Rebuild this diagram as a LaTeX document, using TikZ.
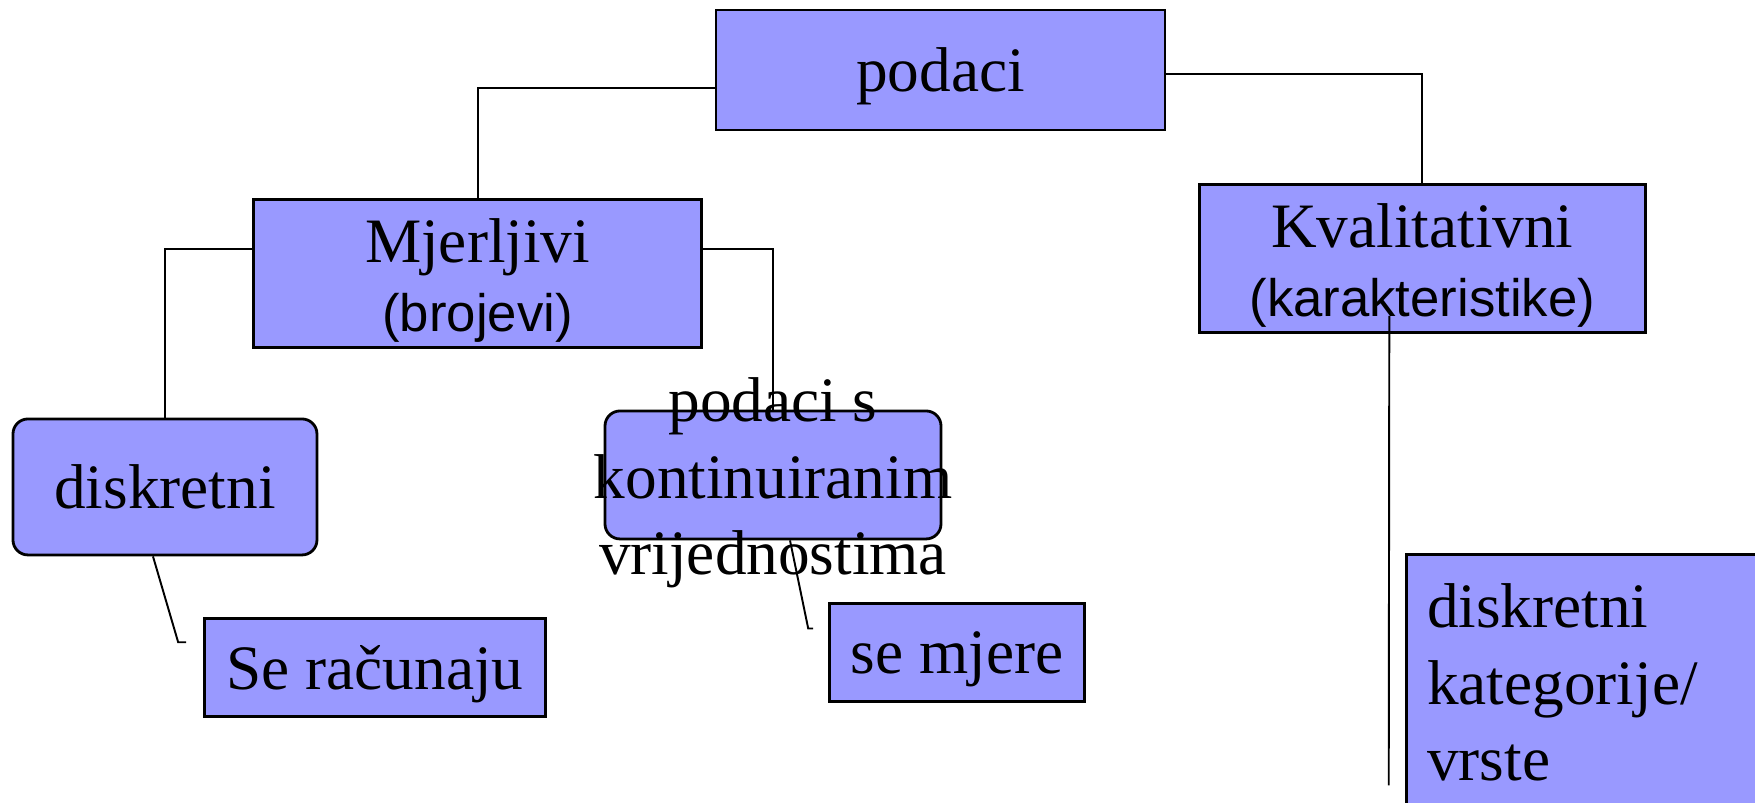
\documentclass[tikz,border=0pt]{standalone}
\usepackage{fontspec}
\setmainfont{Liberation Serif}
\setsansfont{Liberation Sans}
\usetikzlibrary{positioning}
\definecolor{lila}{HTML}{9999FF}
\newcommand{\zagrada}[1]{{\sffamily\fontsize{15}{18}\selectfont #1}}
\newcommand{\podigni}{\rule{0pt}{0.58cm}}

\begin{document}
\begin{tikzpicture}[font=\fontsize{18}{21.8}\selectfont,
        kut/.style={draw,fill=lila,line width=0.8pt,inner sep=0.05cm,align=center},
        okrugli/.style={kut,rounded corners=0.15cm},
        natpis/.style={align=center,inner sep=0pt},
        veza/.style={line width=0.55pt}]
  \useasboundingbox (0,0) rectangle (17.55,-8.02);
  % gornja razina
  \node[kut,minimum width=4.49cm,minimum height=1.2cm,text depth=0pt] (pod) at (9.405,-0.7) {podaci};
  \node[kut,minimum width=4.48cm,minimum height=1.47cm,below left=0.668cm and 0.116cm of pod] (mj)
    {\podigni Mjerljivi\\[-2.2pt]\zagrada{(brojevi)}};
  \node[kut,minimum width=4.46cm,minimum height=1.46cm,below right=0.518cm and 0.315cm of pod] (kv)
    {\podigni Kvalitativni\\[-2.2pt]\zagrada{(karakteristike)}};
  % mjerljivi podaci
  \node[okrugli,minimum width=3.04cm,minimum height=1.36cm,below left=0.687cm and -0.662cm of mj] (dis) {diskretni};
  \node[okrugli,minimum width=3.36cm,minimum height=1.28cm,below right=0.607cm and -0.994cm of mj] (kon) {};
  \node[natpis] (kont) at ([yshift=-0.08cm]kon.center) {podaci s\\kontinuiranim\\vrijednostima};
  \node[kut,minimum width=3.41cm,minimum height=0.98cm,text depth=0pt,below right=0.605cm and -1.152cm of dis] (rac) {Se računaju};
  \node[kut,minimum width=2.55cm,minimum height=0.98cm,text depth=0pt,below right=0.617cm and -1.142cm of kon] (mje) {se mjere};
  % kvalitativni podaci
  \node[kut,text width=3.3cm,align=left,inner xsep=0.21cm,inner ysep=0.29cm,
        below right=2.196cm and -2.42cm of kv] (kat) {diskretni\\kategorije/\\vrste};
  % veze
  \draw[veza] ([yshift=-0.18cm]pod.west) -| (mj.north);
  \draw[veza] ([yshift=-0.04cm]pod.east) -| (kv.north);
  \draw[veza] ([yshift=0.245cm]mj.west) -| (dis.north);
  \draw[veza] ([yshift=0.245cm]mj.east) -| (kon.north);
  \draw[veza] ([xshift=-0.12cm]dis.south) -- ([xshift=-0.25cm,yshift=0.25cm]rac.west) -- ++(0.08,0);
  \draw[veza] ([xshift=0.17cm]kon.south) -- ([xshift=-0.2cm,yshift=0.24cm]mje.west) -- ++(0.05,0);
  \draw[veza] ([xshift=-0.33cm,yshift=0.18cm]kv.south) -- ([xshift=-0.16cm,yshift=-2.32cm]kat.north west);
\end{tikzpicture}
\end{document}
